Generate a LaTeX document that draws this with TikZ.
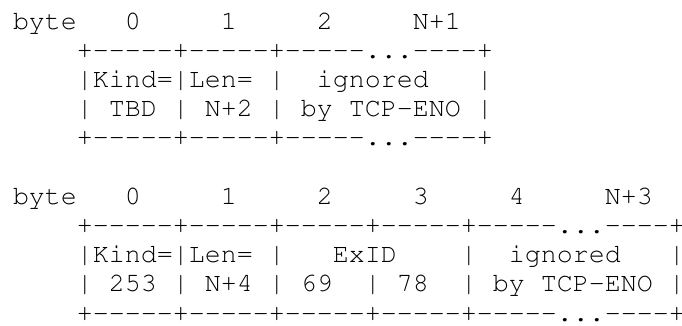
\documentclass[tikz,border=0pt]{standalone}
\newcommand\asciifont{\fontencoding{T1}\fontfamily{pcr}\fontseries{m}\fontshape{n}\fontsize{26.66pt}{29pt}\selectfont}
\newcommand\dk{-\kern0pt}
\newcommand\dfive{\dk\dk\dk\dk\dk}
\newcommand\dfour{\dk\dk\dk\dk}
\begin{document}
\begin{tikzpicture}[x=1pt,y=-1pt,
  asciirow/.style={anchor=base west, inner sep=0pt, outer sep=0pt, font=\asciifont}]
\useasboundingbox (0,0) rectangle (682,325);
\def\lx{13}
\def\pitch{29.2}
\def\topb{29}
\node[asciirow] (l1) at (\lx,\topb+0*\pitch) {byte\ \ \ 0\ \ \ \ \ 1\ \ \ \ \ 2\ \ \ \ \ N+1};
\node[asciirow] (l2) at (\lx,\topb+1*\pitch) {\ \ \ \ +\dfive+\dfive+\dfive...\dfour+};
\node[asciirow] (l3) at (\lx,\topb+2*\pitch) {\ \ \ \ |Kind=|Len=\ |\ \ ignored\ \ \ |};
\node[asciirow] (l4) at (\lx,\topb+3*\pitch) {\ \ \ \ |\ TBD\ |\ N+2\ |\ by\ TCP\dk ENO\ |};
\node[asciirow] (l5) at (\lx,\topb+4*\pitch) {\ \ \ \ +\dfive+\dfive+\dfive...\dfour+};
\node[asciirow] (l7) at (\lx,\topb+6*\pitch) {byte\ \ \ 0\ \ \ \ \ 1\ \ \ \ \ 2\ \ \ \ \ 3\ \ \ \ \ 4\ \ \ \ \ N+3};
\node[asciirow] (l8) at (\lx,\topb+7*\pitch) {\ \ \ \ +\dfive+\dfive+\dfive+\dfive+\dfive...\dfour+};
\node[asciirow] (l9) at (\lx,\topb+8*\pitch) {\ \ \ \ |Kind=|Len=\ |\ \ \ ExID\ \ \ \ |\ \ ignored\ \ \ |};
\node[asciirow] (l10) at (\lx,\topb+9*\pitch) {\ \ \ \ |\ 253\ |\ N+4\ |\ 69\ \ |\ 78\ \ |\ by\ TCP\dk ENO\ |};
\node[asciirow] (l11) at (\lx,\topb+10*\pitch) {\ \ \ \ +\dfive+\dfive+\dfive+\dfive+\dfive...\dfour+};
\end{tikzpicture}
\end{document}
